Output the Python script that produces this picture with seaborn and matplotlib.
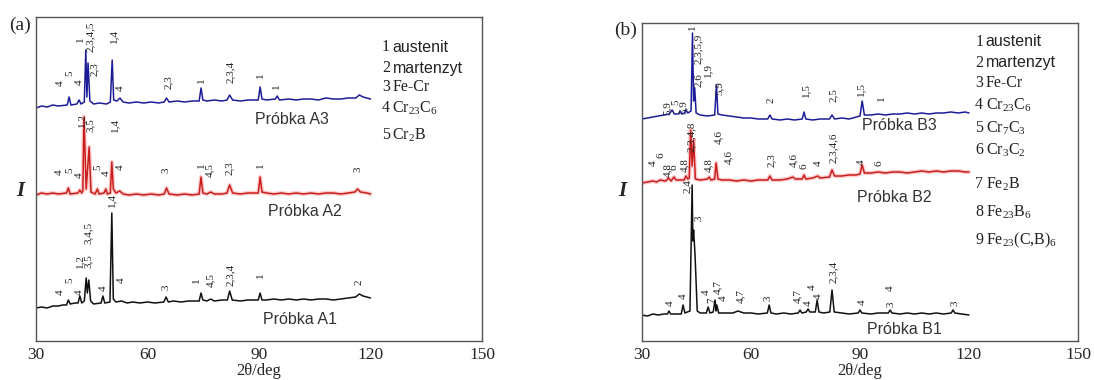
import matplotlib
matplotlib.use("Agg")
import matplotlib.pyplot as plt
import seaborn as sns
import numpy as np
import pandas as pd

# XRD traces, vertices (2theta, intensity)
A3 = [(30,233),(31.5,235),(33,234),(34.5,236),(36,235),(38.4,236),(38.9,244),(39.4,236),(41.0,237),(41.6,241),
      (42.1,237),(43.0,239),(43.4,291),(43.7,244),(44.0,278),(44.5,240),(45.5,237),(47,238),(49,237),(50.0,239),
      (50.5,281),(50.9,241),(51.8,240),(52.6,243),(53.4,239),(55,238),(57,239),(59,238),(61,239),(63,238),
      (64.5,239),(65.1,243),(65.8,239),(68,240),(70,239),(72,240),(73.9,240),(74.4,253),(74.9,241),(76,240),
      (78,241),(80,240),(81.4,241),(82.1,246),(82.9,241),(85,240),(87,241),(89.8,241),(90.3,254),(90.8,242),
      (92,241),(94.4,242),(94.9,245),(95.5,241),(98,242),(100,241),(102,242),(104,242),(106,241),(108,243),
      (110,242),(112,242),(114,243),(116,243),(117,246),(118,244),(119,243),(120,242)]
A2 = [(30,146),(31.5,148),(33,147),(34.5,148),(36,147),(38.2,148),(38.7,153),(39.2,147),(41.3,148),(41.8,151),
      (42.3,148),(42.6,150),(42.9,224),(43.5,152),(44.3,194),(44.8,149),(45.9,147),(46.5,152),(47.0,147),(48.3,148),
      (48.8,152),(49.2,147),(50.0,148),(50.4,179),(50.8,152),(51.5,148),(52.5,150),(53.5,147),(55,146),(57,147),
      (59,146),(61,147),(63,146),(64.5,147),(65.1,153),(65.8,147),(68,146),(70,147),(72,146),(73.9,147),
      (74.4,164),(74.9,148),(76,147),(77,149),(78,147),(80,147),(81.4,148),(82.1,156),(82.9,148),(85,147),
      (87,148),(89.8,148),(90.3,164),(90.8,149),(92,148),(94,147),(96,148),(98,147),(100,148),(102,147),
      (104,148),(106,147),(108,148),(110,148),(112,147),(114,148),(115.8,149),(116.5,152),(117.3,149),(119,148),
      (120,147)]
A1 = [(30,33),(31.5,34),(33,33),(34.5,35),(36,35),(37.2,36),(38.2,36),(38.7,41),(39.2,37),(40.5,38),
      (41.3,38),(41.8,45),(42.3,38),(43.0,40),(43.5,63),(43.8,48),(44.2,61),(44.7,40),(45.5,37),(47.5,38),
      (48.0,45),(48.5,38),(49.9,39),(50.4,128),(50.8,42),(51.5,39),(53,40),(54.5,38),(56,39),(58,38),
      (60,39),(62,38),(64.4,39),(65.0,44),(65.6,39),(67,40),(69,39),(71,40),(73.9,40),(74.4,48),
      (74.9,41),(76,40),(77,42),(78,40),(80,41),(81.5,41),(82.1,50),(82.8,41),(85,40),(87,41),
      (89.8,41),(90.3,48),(90.8,41),(92,41),(94,42),(96,41),(98,42),(100,41),(102,42),(104,41),
      (106,42),(108,42),(110,41),(112,42),(114,43),(116,44),(117,47),(118,45),(119,44),(120,43)]

B3 = [(30,222),(31.5,223),(33,224),(34.5,225),(36,226),(37.5,227),(38.3,231),(38.9,227),(40.0,227),(40.5,230),
      (41.0,227),(41.7,228),(42.1,231),(42.6,228),(43.5,230),(43.9,308),(44.2,240),(44.5,253),(44.9,228),(46,226),
      (48,225),(50.0,226),(50.5,256),(50.9,227),(52,226),(54,225),(56,224),(58,223),(60,223),(62,222),
      (64.6,222),(65.2,226),(65.8,222),(68,221),(70,222),(72,221),(74.1,222),(74.6,229),(75.1,222),(77,221),
      (79,222),(81.6,222),(82.3,226),(83,222),(85,223),(87,222),(89,224),(90.0,225),(90.6,240),(91.2,226),
      (93,226),(95,227),(97,226),(99,227),(101,227),(103,228),(105,227),(107,228),(109,227),(111,228),
      (113,228),(115,229),(117,228),(119,229),(120,228)]
B2 = [(30,158),(31.5,159),(33,160),(34,159),(35,161),(36.5,160),(37.3,163),(38,160),(38.8,164),(39.4,161),
      (41.6,161),(42.1,165),(42.6,162),(43.0,163),(43.4,211),(43.8,175),(44.2,201),(44.7,162),(46,161),(48,162),
      (48.5,164),(49,161),(50.0,162),(50.4,178),(50.9,162),(52,161),(54,161),(56,160),(58,161),(60,160),
      (62,161),(64.6,161),(65.2,165),(65.8,161),(68,161),(70,162),(71.5,164),(72.2,162),(74.1,162),(74.6,166),
      (75.1,162),(77,163),(78.4,165),(79,163),(81.6,164),(82.3,171),(83,165),(85,165),(87,166),(89,166),
      (90.0,167),(90.6,176),(91.2,168),(93,168),(95,169),(97,168),(99,169),(101,169),(103,168),(105,169),
      (107,170),(109,169),(111,170),(113,169),(115,170),(117,170),(119,169),(120,169)]
B1 = [(30,26),(31.5,25),(33,27),(34.5,26),(36,27),(37,27),(37.4,30),(37.9,27),(39.5,27),(40.8,27),
      (41.3,36),(41.8,28),(43.2,30),(43.8,156),(44.0,100),(44.2,111),(44.6,86),(45.2,30),(46,28),(47.7,28),
      (48.2,34),(48.7,28),(49.6,29),(50.1,41),(50.4,30),(50.6,36),(51.1,28),(53,28),(55,28),(56.4,30),
      (58,28),(60,28),(62,27),(64.5,28),(65,36),(65.5,28),(67,27),(69,28),(71,27),(73,28),
      (73.5,31),(74,28),(75.2,29),(75.7,32),(76.2,29),(77.7,29),(78.2,41),(78.7,29),(80,28),(81.7,29),
      (82.3,51),(82.9,29),(85,28),(87,27),(89.5,28),(90,31),(90.5,28),(93,27),(95,28),(97.8,28),
      (98.3,31),(98.8,28),(101,27),(103,28),(105,27),(107,28),(109,27),(111,28),(113,27),(115.1,28),
      (115.6,31),(116.1,28),(118,27),(120,26)]

# peak labels (text, 2theta, y)
labels_a = [("4",36.5,258),("5",39.1,268),("4",41.6,259),("1",41.9,302),("2,3,4,5",44.5,304),("2,3",45.6,272),
            ("1,4",50.8,305),("4",52.6,253),("2,3",65.5,259),("1",74.4,261),("2,3,4",82.2,269),("1",90.3,266),
            ("1",94.8,255),
            ("4",36.3,169),("5",39.1,171),("4",41.6,166),("1,2",42.3,221),("3,5",44.5,216),("5",46.5,174),
            ("4",48.8,168),("1,4",51.3,216),("4",52.6,174),("3",65.0,171),("1",74.4,176),("4,5",76.8,171),
            ("2,3",82.0,173),("1",90.3,176),("3",116.6,172),
            ("4",36.5,49),("5",39.1,61),("4",41.6,49),("1,2",41.8,80),("3,5",44.2,80),("3,4,5",44.2,108),
            ("4",48.0,53),("1,4",50.4,141),("4",53.0,61),("3",65.0,54),("1",73.3,61),("4,5",77.0,61),
            ("2,3,4",82.3,66),("1",90.3,66),("2",116.9,59)]
labels_b = [("5,9",36.9,233),("5",39.4,239),("5,9",41.4,234),("1",43.8,314),("2,3,5,9",45.4,292),("2,6",45.4,261),
            ("1,9",48.2,271),("5,9",51.2,253),("2",65.5,241),("1,5",75.1,251),("2,5",82.8,246),("1,5",90.3,252),
            ("1",96.0,243),
            ("4",33.0,178),("6",35.2,186),("4,8",36.9,171),("6",38.9,174),("4,8",41.6,176),("2,3,4,8",43.6,204),
            ("4,8",48.2,176),("4,6",51.2,204),("4,6",53.7,184),("2,3",65.5,181),("4,6",71.6,181),("6",74.6,175),
            ("4",78.5,178),("2,3,4,6",82.8,193),("4",90.3,179),("6",95.2,178),
            ("4",37.7,38),("4",41.3,45),("2,4",42.6,155),("3",45.6,123),("4",47.6,49),("7",49.2,41),
            ("4,7",50.9,54),("4",52.5,43),("4,7",57.2,45),("3",64.7,43),("4,7",72.9,45),("4",75.7,38),
            ("4",76.8,54),("4",78.6,45),("2,3,4",82.6,69),("4",90.6,39),("4",98.3,53),("3",98.5,37),
            ("3",116.2,38)]

samples_a = [("Próbka A3", 88.9, 221), ("Próbka A2", 92.4, 129), ("Próbka A1", 91.1, 21)]
samples_b = [("Próbka B3", 90.6, 216), ("Próbka B2", 89.2, 143), ("Próbka B1", 91.9, 11)]

legend_a_num = ["1", "2", "3", "4", "5"]
legend_a_name = ["austenit", "martenzyt", "Fe-Cr", r"Cr$_{23}$C$_{6}$", r"Cr$_{2}$B"]
legend_a_y = [294, 273, 254, 233, 206]
legend_b_num = ["1", "2", "3", "4", "5", "6", "7", "8", "9"]
legend_b_name = ["austenit", "martenzyt", "Fe-Cr", r"Cr$_{23}$C$_{6}$", r"Cr$_{7}$C$_{3}$", r"Cr$_{3}$C$_{2}$",
                 r"Fe$_{2}$B", r"Fe$_{23}$B$_{6}$", r"Fe$_{23}$(C,B)$_{6}$"]
legend_b_y = [299, 278, 258, 236, 213, 191, 157, 129, 101]

colors = {"3": "#1c1c98", "2": "#c81e1e", "1": "#111111"}

sns.set_style("white")
plt.rcParams["font.family"] = ["Liberation Serif", "DejaVu Serif"]
plt.rcParams["mathtext.fontset"] = "custom"
plt.rcParams["mathtext.rm"] = "Liberation Serif"
plt.rcParams["mathtext.it"] = "Liberation Serif"

fig = plt.figure(figsize=(10.94, 3.8), dpi=100)
ax_a = fig.add_axes([36/1094, 39/380, 446/1094, 324/380])
ax_b = fig.add_axes([642/1094, 39/380, 436/1094, 318/380])

def draw_panel(ax, traces, labels, samples, leg_num, leg_name, leg_y, leg_x, ytop):
    for key, pts in traces:
        df = pd.DataFrame(pts, columns=["tt", "I"])
        if key == "2":
            sns.lineplot(data=df, x="tt", y="I", ax=ax, sort=False, estimator=None,
                         color="#ff9a9a", lw=3.0, alpha=0.5)
        sns.lineplot(data=df, x="tt", y="I", ax=ax, sort=False, estimator=None,
                     color=colors[key], lw=1.1)
    for s, x, y in labels:
        ax.text(x, y, s, rotation=90, ha="center", va="center", fontsize=8, color="#222222")
    for s, x, y in samples:
        ax.text(x, y, s, ha="left", va="center", fontsize=11.5, color="#333333",
                family=["Liberation Sans", "DejaVu Sans"])
    for i, (n, name, y) in enumerate(zip(leg_num, leg_name, leg_y)):
        ax.text(leg_x, y, n, ha="left", va="center", fontsize=11.5, color="#222222")
        fam = ["Liberation Sans", "DejaVu Sans"] if i < 2 else ["Liberation Serif", "DejaVu Serif"]
        ax.annotate(name, xy=(leg_x, y), xytext=(7.5, 0), textcoords="offset points",
                    ha="left", va="center", fontsize=11.5, color="#222222", family=fam)
    ax.set_xlim(30, 150)
    ax.set_ylim(0, ytop)
    ax.set_xticks([30, 60, 90, 120, 150])
    ax.set_xticks([45, 75, 105, 135], minor=True)
    ax.set_yticks([])
    ax.tick_params(axis="x", which="major", direction="in", length=6, width=1, color="#444444",
                   labelsize=12.5, pad=4)
    ax.tick_params(axis="x", which="minor", direction="in", length=3.5, width=1, color="#444444")
    for sp in ax.spines.values():
        sp.set_visible(True)
        sp.set_color("#555555")
        sp.set_linewidth(1.0)
    ax.set_xlabel("2θ/deg", fontsize=12, labelpad=0)
    ax.set_ylabel("")

draw_panel(ax_a, [("3", A3), ("2", A2), ("1", A1)], labels_a, samples_a,
           legend_a_num, legend_a_name, legend_a_y, 123.1, 324)
draw_panel(ax_b, [("3", B3), ("2", B2), ("1", B1)], labels_b, samples_b,
           legend_b_num, legend_b_name, legend_b_y, 121.7, 318)

fig.text(20/1094, 1 - 25/380, "(a)", fontsize=14, ha="center", va="center")
fig.text(626/1094, 1 - 30/380, "(b)", fontsize=14, ha="center", va="center")
fig.text(20/1094, 1 - 191/380, "I", fontsize=15, style="italic", weight="bold", ha="center", va="center")
fig.text(622/1094, 1 - 191/380, "I", fontsize=15, style="italic", weight="bold", ha="center", va="center")

fig.savefig("out.png", dpi=100, facecolor="white")
